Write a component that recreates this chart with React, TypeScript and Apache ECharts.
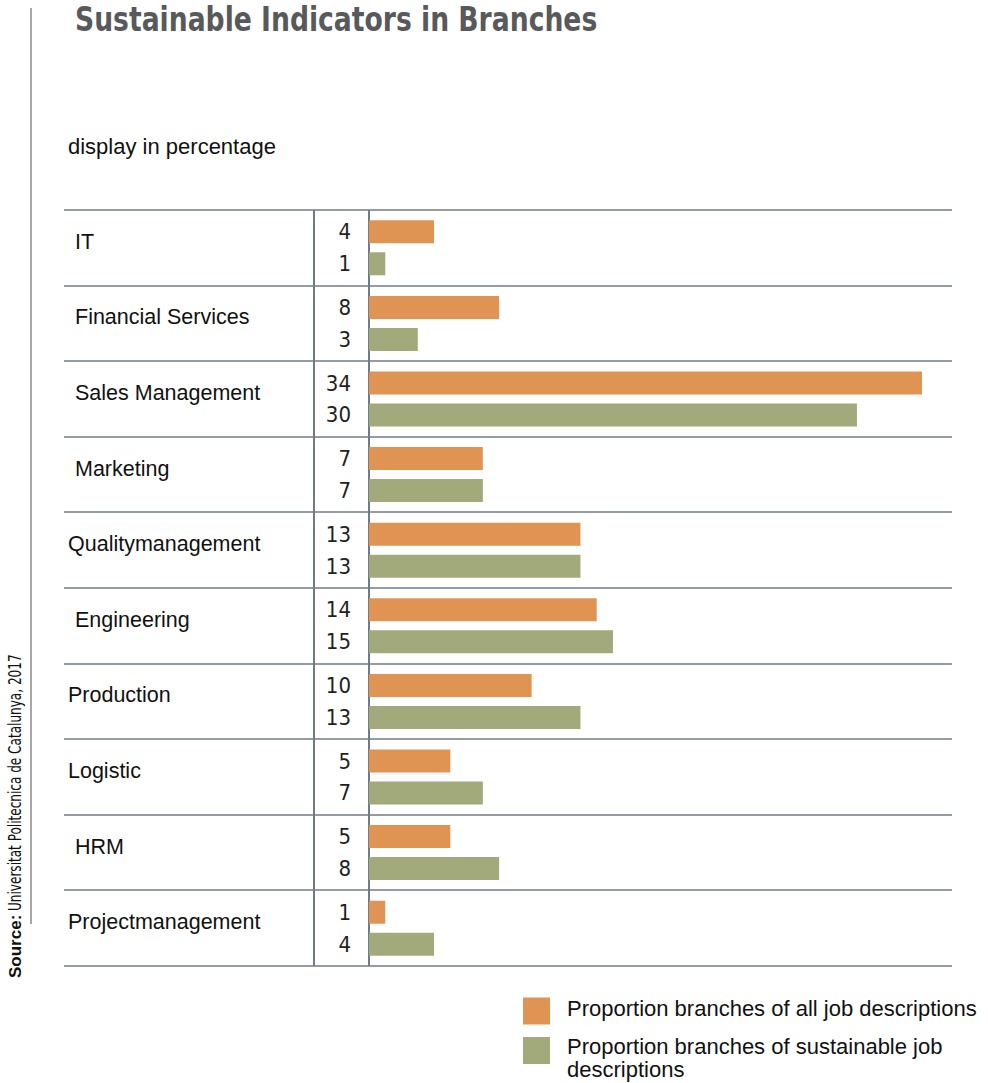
import React, { useEffect, useRef } from "react";
import * as echarts from "echarts";

const categories = [
  "IT",
  "Financial Services",
  "Sales Management",
  "Marketing",
  "Qualitymanagement",
  "Engineering",
  "Production",
  "Logistic",
  "HRM",
  "Projectmanagement",
];
// categories whose label sits slightly further left in the original
const outdented = ["Qualitymanagement", "Production", "Logistic", "Projectmanagement"];
const allJobs = [4, 8, 34, 7, 13, 14, 10, 5, 5, 1];
const sustainableJobs = [1, 3, 30, 7, 13, 15, 13, 7, 8, 4];
const seriesNames = [
  "Proportion branches of all job descriptions",
  "Proportion branches of sustainable job descriptions",
];
const title = "Sustainable Indicators in Branches";
const subtitle = "display in percentage";
const sourceLabel = "Source:";
const sourceText = "Universitat Politecnica de Catalunya, 2017";

const ORANGE = "#e09454";
const GREEN = "#a2aa7b";
const LINE = "#6f7c84";
const SANS = "'Liberation Sans', Arial, Helvetica, sans-serif";
const NARROW = "'Liberation Sans Narrow', 'DejaVu Sans Condensed', 'Liberation Sans', sans-serif";

const GRID_TOP = 210;
const GRID_BOTTOM_Y = 966;
const ROW_H = (GRID_BOTTOM_Y - GRID_TOP) / categories.length;

export default function App() {
  const ref = useRef<HTMLDivElement>(null);
  useEffect(() => {
    if (!ref.current) return;
    const chart = echarts.init(ref.current, null, { renderer: "svg" });

    const graphics: any[] = [];
    // left vertical rule
    graphics.push({
      type: "line",
      shape: { x1: 31, y1: 8, x2: 31, y2: 924 },
      style: { stroke: "#8a8a8a", lineWidth: 1.5 },
      silent: true,
    });
    // title
    graphics.push({
      type: "text",
      x: 75,
      y: 19,
      scaleX: 0.87,
      style: {
        text: title,
        font: `bold 34px ${NARROW}`,
        fill: "#58595b",
        textAlign: "left",
        textVerticalAlign: "middle",
      },
    });
    // subtitle
    graphics.push({
      type: "text",
      x: 68,
      y: 146,
      style: {
        text: subtitle,
        font: `22px ${SANS}`,
        fill: "#111",
        textAlign: "left",
        textVerticalAlign: "middle",
      },
    });
    // source (rotated)
    graphics.push({
      type: "text",
      x: 15,
      y: 978,
      rotation: Math.PI / 2,
      style: {
        text: sourceLabel,
        font: `bold 17px ${SANS}`,
        fill: "#111",
        textAlign: "left",
        textVerticalAlign: "middle",
      },
    });
    graphics.push({
      type: "text",
      x: 15,
      y: 911,
      rotation: Math.PI / 2,
      scaleX: 0.79,
      style: {
        text: sourceText,
        font: `17px ${NARROW}`,
        fill: "#111",
        textAlign: "left",
        textVerticalAlign: "middle",
      },
    });
    // horizontal row rules
    for (let i = 0; i <= categories.length; i++) {
      const y = Math.round(GRID_TOP + i * ROW_H);
      graphics.push({
        type: "line",
        shape: { x1: 64, y1: y, x2: 952, y2: y },
        style: { stroke: LINE, lineWidth: 1.6 },
        silent: true,
      });
    }
    // vertical rules
    [314, 369].forEach((x) => {
      graphics.push({
        type: "line",
        shape: { x1: x, y1: GRID_TOP, x2: x, y2: GRID_BOTTOM_Y },
        style: { stroke: LINE, lineWidth: 2 },
        silent: true,
      });
    });

    const valueLabel = {
      show: true,
      position: "left",
      distance: 18,
      fontSize: 22,
      fontFamily: NARROW,
      color: "#231f20",
    };

    const legendBase = {
      left: 523,
      orient: "vertical",
      padding: 0,
      itemWidth: 27,
      itemHeight: 27,
      icon: "rect",
      selectedMode: false,
    };

    chart.setOption({
      animation: false,
      grid: { left: 369, right: 66, top: GRID_TOP, bottom: 1083 - GRID_BOTTOM_Y, containLabel: false },
      xAxis: {
        type: "value",
        min: 0,
        max: 34,
        show: false,
      },
      yAxis: {
        type: "category",
        data: categories,
        inverse: true,
        axisLine: { show: false },
        axisTick: { show: false },
        splitLine: { show: false },
        axisLabel: {
          margin: 301,
          align: "left",
          formatter: (v: string) => (outdented.includes(v) ? `{o|${v}}` : `{i|${v}}`),
          rich: {
            o: { fontSize: 21.5, fontFamily: SANS, color: "#111", padding: [0, 0, 12, 0] },
            i: { fontSize: 21.5, fontFamily: SANS, color: "#111", padding: [0, 0, 12, 7] },
          },
        },
      },
      legend: [
        {
          ...legendBase,
          data: [seriesNames[0]],
          top: 997,
          formatter: (n: string) => `{t|${n}}\n{s| }`,
          textStyle: {
            padding: [0, 0, 0, 12],
            rich: {
              t: { fontSize: 22, fontFamily: SANS, color: "#111", lineHeight: 25 },
              s: { fontSize: 1, lineHeight: 6 },
            },
          },
        },
        {
          ...legendBase,
          data: [seriesNames[1]],
          top: 1026.5,
          formatter: (n: string) => {
            const parts = n.replace("sustainable job ", "sustainable job\n").split("\n");
            return `{s| }\n{t|${parts[0]}}\n{u|${parts[1]}}`;
          },
          textStyle: {
            padding: [0, 0, 0, 12],
            rich: {
              t: { fontSize: 22, fontFamily: SANS, color: "#111", lineHeight: 25 },
              u: { fontSize: 22, fontFamily: SANS, color: "#111", lineHeight: 22 },
              s: { fontSize: 1, lineHeight: 13 },
            },
          },
        },
      ],
      series: [
        {
          name: seriesNames[0],
          type: "bar",
          data: allJobs,
          barWidth: 23,
          barGap: "39%",
          itemStyle: { color: ORANGE },
          label: valueLabel,
        },
        {
          name: seriesNames[1],
          type: "bar",
          data: sustainableJobs,
          barWidth: 23,
          barGap: "39%",
          itemStyle: { color: GREEN },
          label: valueLabel,
        },
      ],
      graphic: graphics,
    });
    return () => chart.dispose();
  }, []);
  return (
    <div
      ref={ref}
      style={{ position: "absolute", left: 0, top: 0, width: 988, height: 1083, background: "#fff" }}
    />
  );
}
